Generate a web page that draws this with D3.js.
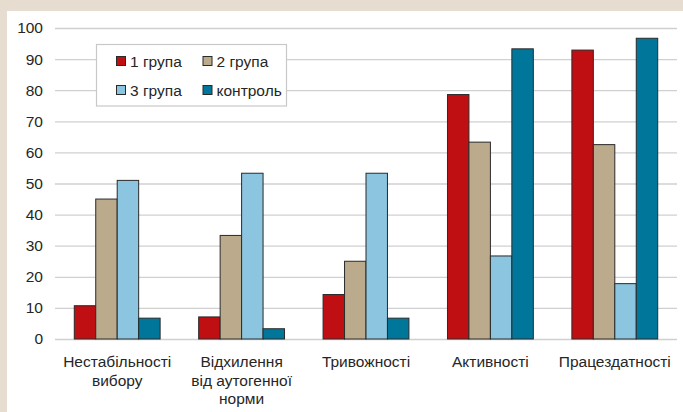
<!DOCTYPE html>
<html>
<head>
<meta charset="utf-8">
<script src="https://cdn.jsdelivr.net/npm/d3@7/dist/d3.min.js"></script>
<style>
  html, body { margin: 0; padding: 0; background: #e6dcd0; }
  svg { display: block; }
  text { font-family: "Liberation Sans", Arial, sans-serif; fill: #262626; }
</style>
</head>
<body>
<script>
// Categories and series values
const categories = [
  ["Нестабільності", "вибору"],
  ["Відхилення", "від аутогенної", "норми"],
  ["Тривожності"],
  ["Активності"],
  ["Працездатності"]
];
const seriesNames = ["1 група", "2 група", "3 група", "контроль"];
const group1 = [10.7, 7.1, 14.3, 78.6, 92.9];
const group2 = [45.0, 33.3, 25.0, 63.3, 62.5];
const group3 = [51.0, 53.3, 53.3, 26.7, 17.8];
const control = [6.7, 3.3, 6.7, 93.3, 96.7];
const yTicks = [0, 10, 20, 30, 40, 50, 60, 70, 80, 90, 100];
const colors = ["#c00f12", "#bbab8c", "#8bc5df", "#00779a"];

const series = [group1, group2, group3, control];
const W = 683, H = 412;

const svg = d3.select("body").append("svg").attr("width", W).attr("height", H);

// White chart panel on the beige page
svg.append("rect").attr("x", 7).attr("y", 11).attr("width", W - 7).attr("height", H - 11).attr("fill", "#ffffff");

const x0 = d3.scaleBand().domain(d3.range(categories.length)).range([55, 677])
  .paddingInner(0.31).paddingOuter(0.155);
const x1 = d3.scaleBand().domain(d3.range(seriesNames.length)).range([0, x0.bandwidth()]);
const y = d3.scaleLinear().domain([0, 100]).range([339, 28]);

// Horizontal gridlines
svg.append("g").selectAll("line").data(yTicks).join("line")
  .attr("x1", 55).attr("x2", 677)
  .attr("y1", d => y(d) + 0.5).attr("y2", d => y(d) + 0.5)
  .attr("stroke", "#d0d0d0").attr("stroke-width", 1.3);

// Y axis labels
const yAxis = d3.axisLeft(y).tickValues(yTicks).tickSize(0).tickPadding(0);
const ya = svg.append("g").attr("transform", "translate(43,0)").call(yAxis);
ya.select(".domain").remove();
ya.selectAll("text").attr("font-size", 15.5).attr("font-family", "Liberation Sans, Arial, sans-serif")
  .attr("fill", "#262626");

// Bars
const groups = svg.append("g").selectAll("g").data(categories.map((c, i) => i)).join("g")
  .attr("transform", i => `translate(${x0(i)},0)`);
groups.selectAll("rect").data(i => series.map((s, k) => ({ k, v: s[i] }))).join("rect")
  .attr("x", d => x1(d.k))
  .attr("y", d => y(d.v))
  .attr("width", x1.bandwidth())
  .attr("height", d => y(0) - y(d.v))
  .attr("fill", d => colors[d.k])
  .attr("stroke", "#2a2a2a").attr("stroke-width", 1);

// Category labels
const cat = svg.append("g").selectAll("text").data(categories).join("text")
  .attr("x", (d, i) => x0(i) + x0.bandwidth() / 2)
  .attr("y", 367)
  .attr("text-anchor", "middle")
  .attr("font-size", 15.5);
cat.selectAll("tspan").data(d => d).join("tspan")
  .attr("x", function () { return this.parentNode.getAttribute("x"); })
  .attr("dy", (d, i) => i === 0 ? 0 : 18.5)
  .text(d => d);

// Legend
const lg = svg.append("g");
lg.append("rect").attr("x", 96.5).attr("y", 44.5).attr("width", 190).attr("height", 61.5)
  .attr("fill", "#ffffff").attr("stroke", "#c8c8c8").attr("stroke-width", 1.2);
const legPos = [[116, 61], [202.5, 61], [116, 90], [202.5, 90]];
seriesNames.forEach((name, k) => {
  const [lx, ly] = legPos[k];
  lg.append("rect").attr("x", lx + 0.5).attr("y", ly - 4.5).attr("width", 9).attr("height", 9)
    .attr("fill", colors[k]).attr("stroke", "#2a2a2a").attr("stroke-width", 1);
  lg.append("text").attr("x", lx + 14).attr("y", ly + 5.5).attr("font-size", 15.5).text(name);
});
</script>
</body>
</html>
